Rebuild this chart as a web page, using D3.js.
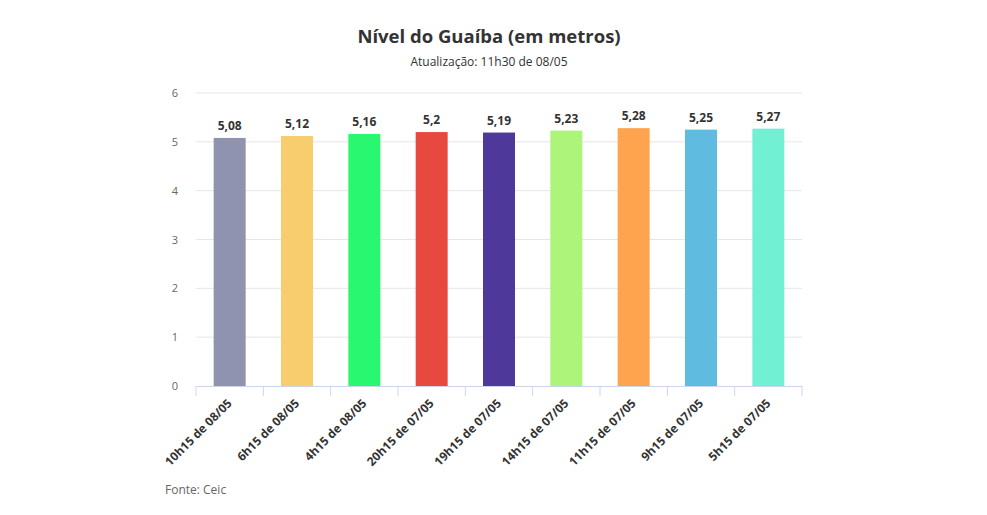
<!DOCTYPE html>
<html>
<head>
<meta charset="utf-8">
<script src="https://cdn.jsdelivr.net/npm/d3@7"></script>
<style>
  body { margin: 0; background: #fff; }
  text { font-family: "Open Sans", sans-serif; }
</style>
</head>
<body>
<div id="chart"></div>
<script>
// dados
const categorias = ["10h15 de 08/05", "6h15 de 08/05", "4h15 de 08/05", "20h15 de 07/05", "19h15 de 07/05", "14h15 de 07/05", "11h15 de 07/05", "9h15 de 07/05", "5h15 de 07/05"];
const niveis = [5.08, 5.12, 5.16, 5.2, 5.19, 5.23, 5.28, 5.25, 5.27];
const cores = ["#8f93b0", "#f7cd6e", "#29f76f", "#e8493e", "#4e389a", "#adf57a", "#fea44f", "#60bbe0", "#72f0d4"];
const yTicks = [0, 1, 2, 3, 4, 5, 6];

var width = 987;
var height = 515;
var margin = { top: 93, right: 185, bottom: 129, left: 196 };

var svg = d3.select("#chart").append("svg").attr("width", width).attr("height", height);

// escalas
var xScale = d3.scaleBand().domain(categorias).range([margin.left, width - margin.right]).paddingInner(0.525).paddingOuter(0.2625);
var yScale = d3.scaleLinear().domain([0, 6]).range([height - margin.bottom, margin.top]);

// título
svg.append("text")
  .attr("x", 489).attr("y", 43)
  .attr("text-anchor", "middle")
  .attr("font-size", "18.5px").attr("font-weight", 700)
  .attr("fill", "#333")
  .text("Nível do Guaíba (em metros)");

svg.append("text")
  .attr("x", 489).attr("y", 66)
  .attr("text-anchor", "middle")
  .attr("font-size", "12px")
  .attr("fill", "#333")
  .text("Atualização: 11h30 de 08/05");

// grade
svg.append("g")
  .selectAll("line")
  .data(yTicks.filter(d => d > 0))
  .enter()
  .append("line")
  .attr("x1", margin.left).attr("x2", width - margin.right)
  .attr("y1", d => yScale(d)).attr("y2", d => yScale(d))
  .attr("stroke", "#e6e6e6");

// eixo y
var yAxis = svg.append("g")
  .attr("transform", "translate(" + margin.left + ",0)")
  .call(d3.axisLeft(yScale).tickValues(yTicks).tickFormat(d3.format("d")).tickSize(0).tickPadding(18));
yAxis.select(".domain").remove();
yAxis.selectAll("text").attr("font-size", "11px").attr("fill", "#666").attr("font-family", "Open Sans, sans-serif");

// barras
svg.selectAll(".bar")
  .data(niveis)
  .enter()
  .append("rect")
  .attr("class", "bar")
  .attr("x", (d, i) => xScale(categorias[i]))
  .attr("y", d => yScale(d))
  .attr("width", xScale.bandwidth())
  .attr("height", d => yScale(0) - yScale(d))
  .attr("fill", (d, i) => cores[i]);

// rótulos
svg.selectAll(".label")
  .data(niveis)
  .enter()
  .append("text")
  .attr("class", "label")
  .attr("x", (d, i) => xScale(categorias[i]) + xScale.bandwidth() / 2)
  .attr("y", d => yScale(d) - 8)
  .attr("text-anchor", "middle")
  .attr("font-size", "12px").attr("font-weight", 700)
  .attr("fill", "#333")
  .text(d => String(d).replace(".", ","));

// eixo x
var xBand = d3.scaleBand().domain(categorias).range([margin.left, width - margin.right]);
var xAxis = svg.append("g")
  .attr("transform", "translate(0," + yScale(0) + ")")
  .call(d3.axisBottom(xBand).tickSize(0).tickPadding(10));
xAxis.select(".domain").attr("stroke", "#ccd6eb");
// marcas nos limites das categorias
xAxis.selectAll(".edge")
  .data(d3.range(categorias.length + 1))
  .enter()
  .append("line")
  .attr("class", "edge")
  .attr("x1", i => margin.left + i * xBand.step())
  .attr("x2", i => margin.left + i * xBand.step())
  .attr("y1", 0).attr("y2", 10)
  .attr("stroke", "#ccd6eb");
xAxis.selectAll(".tick text")
  .attr("font-size", "12px").attr("font-weight", 700)
  .attr("fill", "#333")
  .attr("font-family", "Open Sans, sans-serif")
  .attr("text-anchor", "end")
  .attr("dy", "0.35em")
  .attr("transform", "translate(-7,8) rotate(-45)");

// fonte
svg.append("text")
  .attr("x", 165).attr("y", 494)
  .attr("font-size", "12px")
  .attr("fill", "#666")
  .text("Fonte: Ceic");
</script>
</body>
</html>
